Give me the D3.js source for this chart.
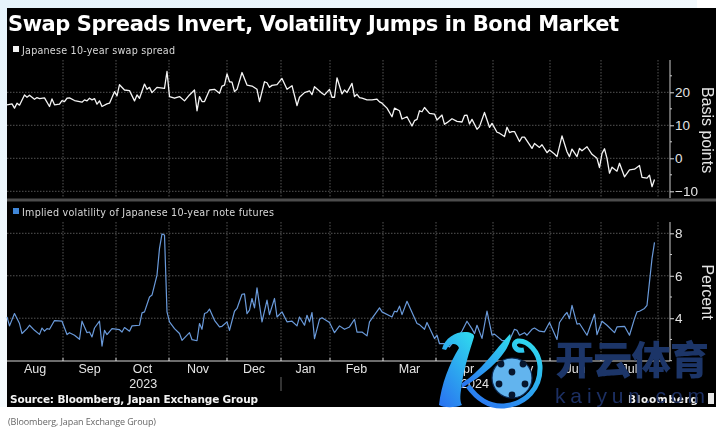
<!DOCTYPE html>
<html>
<head>
<meta charset="utf-8">
<script src="https://cdn.jsdelivr.net/npm/d3@7"></script>
<style>
  html, body { margin: 0; padding: 0; background: #fff; }
  svg { display: block; filter: blur(0.35px); }
</style>
</head>
<body>
<div id="chart"></div>
<script>
// trading days counted from the left edge of the chart
var spreadDays = [0,2,3,4,5,7,8,9,11,12,13,15,17,18,19,21,22,23,24,25,27,30,31,32,33,34,35,36,37,38,40,41,43,44,45,47,49,51,52,53,55,56,57,58,60,63,64,65,67,69,71,73,75,76,77,78,79,81,83,85,86,87,88,89,90,91,92,94,96,98,100,101,103,104,105,106,108,110,112,114,116,117,119,121,122,123,126,127,129,130,131,132,134,135,136,138,139,140,141,142,144,146,148,149,150,152,154,155,157,158,160,162,163,164,165,166,167,169,171,172,174,175,176,178,180,182,183,184,185,186,188,189,191,193,194,196,197,199,200,201,202,203,205,206,207,210,211,213,214,216,217,219,220,222,224,225,226,228,229,230,232,234,236,237,238,239,240,241,242,244,245,247,249,251,253,254,256,257,258,259];
var spreadValues = [16.2,16.5,15.2,16.7,16.1,19.2,18.5,19.1,17.9,18.4,18.1,18.3,15.7,18.0,16.2,16.4,17.5,17.2,18.2,18.3,17.5,17.0,17.7,17.4,18.2,17.7,18.1,16.4,17.4,15.7,16.5,16.7,20.2,18.9,22.3,20.7,20.5,17.4,19.2,18.2,22.5,20.9,21.5,19.9,21.5,21.2,26.3,18.7,18.2,18.7,17.4,19.2,20.7,14.4,18.7,17.2,17.2,20.7,20.9,19.7,21.9,22.2,25.6,23.2,23.1,20.2,20.9,26.0,22.2,21.9,20.9,17.2,23.2,22.9,21.5,22.1,22.3,24.2,20.9,22.0,16.0,18.5,19.9,20.4,19.3,21.7,19.7,19.2,20.9,18.5,18.5,24.4,19.5,20.7,19.9,22.7,18.7,19.4,18.4,18.2,17.7,17.7,17.9,17.1,16.7,15.2,12.6,15.2,14.4,11.9,12.6,9.8,11.4,11.8,14.4,14.1,15.4,13.6,13.4,11.6,13.1,10.3,10.8,12.0,11.2,11.0,13.0,13.1,10.4,11.8,8.8,9.6,13.9,9.4,10.6,7.9,7.6,6.6,9.4,7.8,8.1,8.1,5.1,6.4,6.4,3.0,4.5,3.3,4.1,1.7,2.5,1.3,0.5,6.8,2.0,0.5,2.8,0.5,3.0,2.3,3.5,1.2,0,-2.8,1.5,2.9,0,-4.5,-2.7,-3.9,-1.5,-5.6,-3.5,-3.3,-2.2,-5.8,-6.0,-5.1,-8.6,-6.4];

var volDays = [0,1,3,5,6,8,9,11,13,14,15,16,17,19,22,24,25,27,29,30,32,33,34,35,37,38,39,40,42,45,46,47,49,50,53,54,55,57,58,60,61,62,63,64,65,67,69,70,73,74,76,77,78,79,80,81,83,85,86,88,89,91,92,94,95,96,97,98,99,100,102,104,105,107,108,110,112,114,116,117,119,120,121,122,123,125,126,129,131,133,135,137,139,140,142,144,145,149,150,154,155,156,157,158,160,164,165,167,168,171,172,173,175,177,178,180,182,184,186,187,188,190,192,194,195,198,201,203,204,205,207,208,210,211,213,215,217,220,221,223,224,225,226,228,229,232,235,236,238,240,243,244,247,249,251,252,253,255,256,257,258,259];
var volValues = [4.06,3.64,4.22,3.75,3.28,3.51,3.67,3.43,3.24,3.54,3.39,3.51,3.48,3.89,3.86,3.23,3.32,3.2,3.01,3.86,3.32,3.35,3.12,3.54,3.86,2.69,3.43,3.23,3.51,3.46,3.35,3.56,3.39,3.64,3.67,4.25,4.3,5.0,5.09,6.03,7.29,7.97,7.92,4.3,3.83,3.51,3.28,2.96,3.32,2.99,2.94,3.75,3.48,4.22,4.27,4.43,3.9,3.59,3.62,3.83,3.43,4.33,4.46,5.13,5.15,4.22,4.38,4.93,4.49,5.43,3.83,4.85,4.17,4.93,4.06,4.3,3.83,3.86,3.64,4.06,3.67,4.14,3.83,4.27,3.04,3.95,4.02,3.8,3.32,3.64,3.48,3.59,3.95,3.35,3.35,3.17,3.83,4.49,4.3,4.06,4.33,4.3,4.57,4.17,4.8,3.75,3.7,3.48,3.8,3.04,3.2,2.8,2.8,2.65,2.8,3.05,3.4,3.86,3.5,3.28,3.67,3.05,4.34,3.2,3.25,2.95,2.96,3.48,3.43,3.2,3.32,3.2,3.48,3.54,3.39,3.36,3.8,3.0,3.8,4.14,4.27,3.98,4.61,3.72,3.75,3.2,4.19,3.23,3.86,3.67,3.32,3.59,3.62,3.2,3.98,4.3,4.33,4.46,4.61,5.71,6.81,7.57];

var monthLabels = ["Aug","Sep","Oct","Nov","Dec","Jan","Feb","Mar","Apr","May","Jun","Jul"];
// trading day on which each following month starts (first entry is the chart edge)
var monthStarts = [0,22.4,43.6,64.8,88,109.6,129.2,150.4,171.6,194.4,217.2,237.6,260.4];
var yearLabels = [{ text: "2023", day: 54.5 }, { text: "2024", day: 187.2 }];

var spreadTicks = [20,10,0,-10];
var spreadMinor = [25,15,5,-5];
var volTicks = [8,6,4];
var volMinor = [7,5,3,2];

var width = 724, height = 430;
var mono = "'DejaVu Sans', Verdana, sans-serif";

var svg = d3.select("#chart").append("svg")
  .attr("width", width)
  .attr("height", height);

var defs = svg.append("defs");
var pageGrad = defs.append("linearGradient").attr("id", "pageGrad")
  .attr("x1", 0).attr("y1", 0).attr("x2", 0.75).attr("y2", 1);
pageGrad.append("stop").attr("offset", "0%").attr("stop-color", "#e6f3fb");
pageGrad.append("stop").attr("offset", "100%").attr("stop-color", "#ffffff");
var logoGrad = defs.append("linearGradient").attr("id", "logoGrad")
  .attr("x1", 0.8).attr("y1", 0).attr("x2", 0.2).attr("y2", 1);
logoGrad.append("stop").attr("offset", "0%").attr("stop-color", "#2fd6ee");
logoGrad.append("stop").attr("offset", "100%").attr("stop-color", "#2a78f0");

svg.append("rect").attr("width", 697).attr("height", 430).attr("fill", "url(#pageGrad)");
svg.append("rect").attr("x", 0).attr("y", 407).attr("width", width).attr("height", 23).attr("fill", "#fff");
svg.append("rect").attr("x", 7).attr("y", 8).attr("width", 709).attr("height", 399).attr("fill", "#000");

var x = d3.scaleLinear().domain([0, 260.4]).range([7, 658]);
var ySpread = d3.scaleLinear().domain([-10, 20]).range([191.3, 92.3]);
var yVol = d3.scaleLinear().domain([2, 8]).range([360.7, 233.3]);

var panels = [
  { top: 60, bottom: 198, y: ySpread, ticks: spreadTicks, minor: spreadMinor },
  { top: 222, bottom: 361, y: yVol, ticks: volTicks, minor: volMinor }
];

panels.forEach(function(p) {
  var g = svg.append("g");
  g.selectAll(".grid-x")
    .data(monthStarts.slice(1))
    .enter().append("line")
      .attr("x1", function(d) { return x(d); })
      .attr("x2", function(d) { return x(d); })
      .attr("y1", p.top)
      .attr("y2", p.bottom)
      .attr("stroke", "#6a6a6a")
      .attr("stroke-width", 0.8)
      .attr("stroke-dasharray", "1.5,1.5");
  g.selectAll(".grid-y")
    .data(p.ticks)
    .enter().append("line")
      .attr("x1", 7)
      .attr("x2", 670)
      .attr("y1", function(d) { return p.y(d); })
      .attr("y2", function(d) { return p.y(d); })
      .attr("stroke", "#6a6a6a")
      .attr("stroke-width", 0.8)
      .attr("stroke-dasharray", "1.5,1.5");

  // right axis
  var axis = d3.axisRight(p.y).tickValues(p.ticks).tickSize(4).tickPadding(1).tickFormat(d3.format("d"));
  var ag = g.append("g").attr("transform", "translate(670,0)").call(axis);
  ag.select(".domain").remove();
  ag.selectAll("line").attr("stroke", "#ddd");
  ag.selectAll("text")
    .attr("fill", "#e4e4e4")
    .attr("font-family", "'Liberation Sans', Arial, sans-serif")
    .attr("font-size", 13.5);
  g.append("line")
    .attr("x1", 670).attr("x2", 670)
    .attr("y1", p.top).attr("y2", p.bottom)
    .attr("stroke", "#ccc");
  g.selectAll(".minor")
    .data(p.minor)
    .enter().append("line")
      .attr("x1", 670).attr("x2", 672)
      .attr("y1", function(d) { return p.y(d); })
      .attr("y2", function(d) { return p.y(d); })
      .attr("stroke", "#ccc");
});

// band between the two panels
svg.append("rect").attr("x", 7).attr("y", 198.5).attr("width", 709).attr("height", 3).attr("fill", "#4c4c4c");

var spreadLine = d3.line()
  .x(function(d) { return x(d); })
  .y(function(d, i) { return ySpread(spreadValues[i]); });
var volLine = d3.line()
  .x(function(d) { return x(d); })
  .y(function(d, i) { return yVol(volValues[i]); });

svg.append("path")
  .attr("d", spreadLine(spreadDays))
  .attr("fill", "none")
  .attr("stroke", "#f4f4f4")
  .attr("stroke-width", 1.3)
  .attr("stroke-linejoin", "round");
svg.append("path")
  .attr("d", volLine(volDays))
  .attr("fill", "none")
  .attr("stroke", "#6a9ada")
  .attr("stroke-width", 1.2)
  .attr("stroke-linejoin", "round");

// bottom axis
svg.append("line").attr("x1", 7).attr("x2", 670).attr("y1", 361).attr("y2", 361).attr("stroke", "#d8d8d8");
svg.selectAll(".month-tick")
  .data(monthStarts.slice(1))
  .enter().append("line")
    .attr("x1", function(d) { return x(d); })
    .attr("x2", function(d) { return x(d); })
    .attr("y1", 358)
    .attr("y2", 361)
    .attr("stroke", "#d8d8d8");
svg.selectAll(".month-label")
  .data(monthLabels)
  .enter().append("text")
    .attr("x", function(d, i) { return x((monthStarts[i] + monthStarts[i + 1]) / 2); })
    .attr("y", 373)
    .attr("text-anchor", "middle")
    .attr("fill", "#e4e4e4")
    .attr("font-family", "'Liberation Sans', Arial, sans-serif")
    .attr("font-size", 12.5)
    .text(function(d) { return d; });
svg.selectAll(".year-label")
  .data(yearLabels)
  .enter().append("text")
    .attr("x", function(d) { return x(d.day); })
    .attr("y", 388)
    .attr("text-anchor", "middle")
    .attr("fill", "#e4e4e4")
    .attr("font-family", "'Liberation Sans', Arial, sans-serif")
    .attr("font-size", 12.5)
    .text(function(d) { return d.text; });
svg.append("line")
  .attr("x1", x(monthStarts[5])).attr("x2", x(monthStarts[5]))
  .attr("y1", 377).attr("y2", 391)
  .attr("stroke", "#666");

// titles and legends
svg.append("text")
  .attr("x", 8).attr("y", 31)
  .attr("fill", "#fff")
  .attr("font-family", mono)
  .attr("font-weight", "bold")
  .attr("font-size", 21)
  .attr("textLength", 611)
  .text("Swap Spreads Invert, Volatility Jumps in Bond Market");

function legend(y, color, label, len) {
  svg.append("rect")
    .attr("x", 13).attr("y", y - 8).attr("width", 6).attr("height", 6)
    .attr("fill", color);
  svg.append("text")
    .attr("x", 22).attr("y", y)
    .attr("fill", "#d8d8d8")
    .attr("font-family", mono)
    .attr("font-size", 9.6)
    .attr("textLength", len)
    .text(label);
}
legend(54, "#f2f2f2", "Japanese 10-year swap spread", 153);
legend(216, "#3f86d8", "Implied volatility of Japanese 10-year note futures", 252);

function sideLabel(y, label) {
  svg.append("text")
    .attr("transform", "translate(702," + y + ") rotate(90)")
    .attr("text-anchor", "middle")
    .attr("fill", "#e4e4e4")
    .attr("font-family", "'Liberation Sans', Arial, sans-serif")
    .attr("font-size", 16)
    .text(label);
}
sideLabel(130, "Basis points");
sideLabel(292, "Percent");

svg.append("text")
  .attr("x", 10).attr("y", 403)
  .attr("fill", "#f2f2f2")
  .attr("font-family", mono)
  .attr("font-weight", "bold")
  .attr("font-size", 10.5)
  .attr("textLength", 248)
  .text("Source: Bloomberg, Japan Exchange Group");

svg.append("text")
  .attr("x", 8).attr("y", 425)
  .attr("fill", "#666")
  .attr("font-family", "'Open Sans', sans-serif")
  .attr("font-size", 9)
  .attr("textLength", 148)
  .text("(Bloomberg, Japan Exchange Group)");

svg.append("text")
  .attr("x", 628).attr("y", 403)
  .attr("fill", "#f2f2f2")
  .attr("font-family", mono)
  .attr("font-weight", "bold")
  .attr("font-size", 10.5)
  .attr("textLength", 70)
  .text("Bloomberg");
svg.append("rect").attr("x", 708).attr("y", 393).attr("width", 6).attr("height", 11).attr("fill", "#e8e8e8");

// watermark over the chart
var wm = svg.append("g");
wm.append("text")
  .attr("x", 555).attr("y", 374)
  .attr("fill", "#1c3568")
  .attr("font-family", "'Noto Sans CJK SC'")
  .attr("font-weight", 900)
  .attr("font-size", 39)
  .attr("textLength", 154)
  .text("开云体育");
wm.append("text")
  .attr("x", 555).attr("y", 403)
  .attr("fill", "#1c2f62")
  .attr("font-family", "'Liberation Sans', sans-serif")
  .attr("font-size", 21)
  .attr("textLength", 150)
  .text("kaiyun.com");

wm.append("path")
  .attr("d", "M442,349 C445,338 455,332 465,332 C470,332 475,334 474,337 C470,350 463,370 461,390 C460,396 460,402 462,405 C455,408 444,408 439,405 C441,385 450,362 459,348 C457,343 450,342 446,350 Z")
  .attr("fill", "url(#logoGrad)");
wm.append("path")
  .attr("d", "M462,383 C480,372 495,350 510,334 C513,340 505,355 490,368 C482,375 472,382 462,388 Z")
  .attr("fill", "url(#logoGrad)");
wm.append("path")
  .attr("d", "M468,386 C478,400 490,407 504,406 C526,404 541,388 540,366 C539,352 528,340 518,341 C511,343 515,352 524,350")
  .attr("fill", "none")
  .attr("stroke", "url(#logoGrad)")
  .attr("stroke-width", 5);
wm.append("circle")
  .attr("cx", 512).attr("cy", 378).attr("r", 20)
  .attr("fill", "#62b4ee")
  .attr("stroke", "#0b2a55")
  .attr("stroke-width", 1.2);
var patches = [[512,372],[499,384],[525,384],[512,395],[501,364],[523,364]];
wm.selectAll(".patch")
  .data(patches)
  .enter().append("circle")
    .attr("cx", function(d) { return d[0]; })
    .attr("cy", function(d) { return d[1]; })
    .attr("r", 3.4)
    .attr("fill", "#06162e");
</script>
</body>
</html>
